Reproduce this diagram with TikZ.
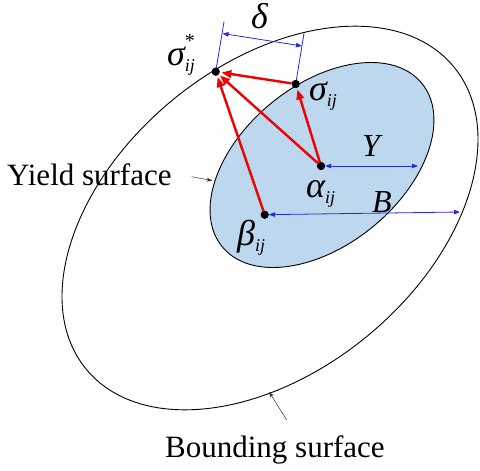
\documentclass[tikz,border=0pt]{standalone}
\usepackage{fontspec}
\setmainfont{Liberation Serif}
\usetikzlibrary{arrows.meta}
\definecolor{fillblue}{RGB}{189,215,238}
\definecolor{dimblue}{RGB}{40,40,225}
\definecolor{vred}{RGB}{238,0,0}
\newcommand\subij[1]{\raisebox{-6pt}{\fontsize{18}{18}\selectfont\itshape #1}}
\begin{document}
\begin{tikzpicture}[x=1pt,y=1pt,
  lbl/.style={inner sep=0pt, anchor=base west, font=\fontsize{31}{36}\selectfont},
  glbl/.style={inner sep=0pt, anchor=base west, font=\fontsize{32}{36}\selectfont\itshape},
  grk/.style={glbl, font=\fontsize{36}{40}\selectfont\itshape},
  redarr/.style={draw=vred, line width=2.4pt, -{Triangle[length=10pt,width=7.5pt]}, shorten >=1.5pt},
  dimarr/.style={draw=dimblue, line width=0.8pt, {Triangle[length=6pt,width=4.5pt]}-{Triangle[length=6pt,width=4.5pt]}},
  extline/.style={draw=dimblue, line width=0.8pt},
  ptr/.style={draw=black!80, line width=0.5pt, -{Stealth[length=6pt,width=4pt]}},
  dot/.style={circle, fill=black, inner sep=0pt, minimum size=8pt}]
\useasboundingbox (0,0) rectangle (480,-471);
% surfaces
\draw[line width=0.9pt, rotate around={39.4:(270,-218)}] (270,-218) ellipse [x radius=238, y radius=153];
\filldraw[fill=fillblue, draw=black, line width=0.9pt, rotate around={39.3:(322,-165)}] (322,-165) ellipse [x radius=129, y radius=80];
% points
\node[dot] (ss) at (215.7,-71.7) {};
\node[dot] (s) at (295.7,-84) {};
\node[dot] (a) at (321,-166) {};
\node[dot] (b) at (264.7,-214.7) {};
% helper coordinates
\coordinate (sst) at (224,-21.7);
\coordinate (st) at (304,-33.3);
\coordinate (d1) at (222.5,-33.5);
\coordinate (d2) at (302,-46);
\coordinate (yend) at (418,-166);
\coordinate (bend) at (460,-212);
\coordinate (ytip) at (212.5,-180.7);
\coordinate (ytail) at (191.7,-176.7);
\coordinate (btip) at (269,-391.7);
\coordinate (btail) at (286.7,-420);
% dimensions
\draw[extline] (ss.center) -- (sst);
\draw[extline] (s.center) -- (st);
\draw[dimarr] (d1) -- (d2);
\draw[dimarr] (a) -- (yend);
\draw[dimarr] (b) -- (bend);
% red vectors
\draw[redarr] (s) -- (ss);
\draw[redarr] (a) -- (ss);
\draw[redarr] (a) -- (s);
\draw[redarr] (b) -- (ss);
% redraw dots on top
\foreach \p in {ss,s,a,b} \fill (\p) circle (4pt);
% labels
\node[grk] (lss) at (167,-65) {σ\rlap{\raisebox{18pt}{\fontsize{20}{20}\selectfont\upshape *}}\subij{ij}};
\node[grk] (ls) at (309,-100) {σ\subij{ij}};
\node[grk] (la) at (306,-197) {α\subij{ij}};
\node[grk] (lb) at (237,-245) {β\subij{ij}};
\node[grk] (ld) at (251,-28) {δ};
\node[glbl] (lY) at (362,-156) {Y};
\node[glbl] (lB) at (372,-212) {B};
\node[lbl] (ly) at (7,-185) {Yield surface};
\node[lbl] (lbs) at (165,-457) {Bounding surface};
% pointers
\draw[ptr] (ytail) -- (ytip);
\draw[ptr] (btail) -- (btip);
\end{tikzpicture}
\end{document}
